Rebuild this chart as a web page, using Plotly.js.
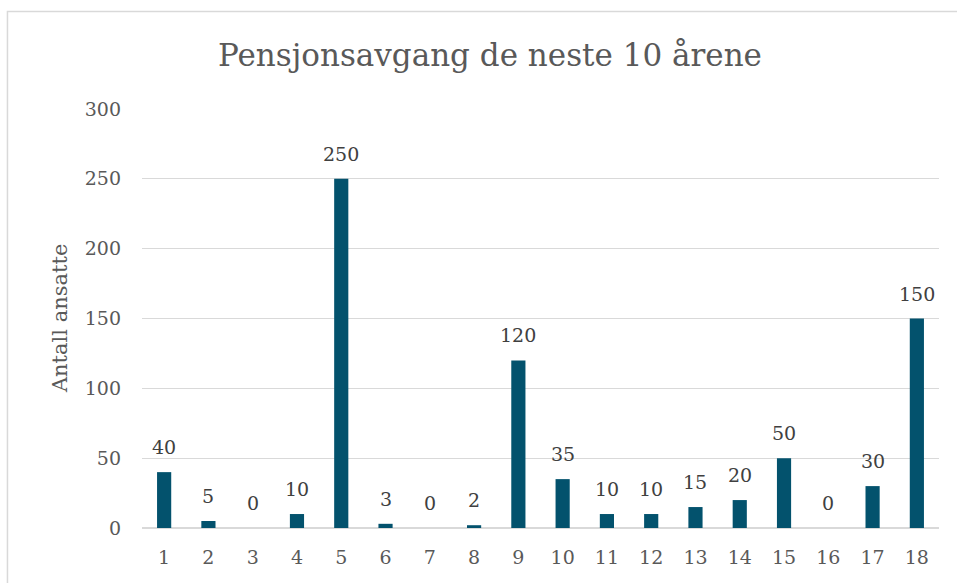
<!DOCTYPE html>
<html>
<head>
<meta charset="utf-8">
<script src="https://cdn.plot.ly/plotly-3.0.1.min.js"></script>
<style>
html,body{margin:0;padding:0;background:#fff;}
#chart{width:957px;height:583px;}
</style>
</head>
<body>
<div id="chart"></div>
<script>
const categories = ["1","2","3","4","5","6","7","8","9","10","11","12","13","14","15","16","17","18"];
const values = [40,5,0,10,250,3,0,2,120,35,10,10,15,20,50,0,30,150];
const yTicks = [0,50,100,150,200,250,300];
const titleText = "Pensjonsavgang de neste 10 årene";
const yTitle = "Antall ansatte";

const FONT = "DejaVu Serif, Liberation Serif, serif";

const labelAnnotations = categories.map((c, i) => ({
  x: i, y: values[i], xref: 'x', yref: 'y',
  text: String(values[i]), showarrow: false,
  yanchor: 'bottom', yshift: 12,
  font: {family: FONT, size: 19, color: '#404040'}
}));

const trace = {
  type: 'bar',
  x: categories,
  y: values,
  width: 0.32,
  marker: {color: '#03526d'},
  hoverinfo: 'x+y'
};

const layout = {
  width: 957, height: 583,
  margin: {l: 142, r: 18, t: 109, b: 55},
  paper_bgcolor: '#ffffff',
  plot_bgcolor: '#ffffff',
  showlegend: false,
  title: {
    text: titleText,
    font: {family: FONT, size: 31, color: '#595959'},
    x: 0.512, xref: 'container', xanchor: 'center',
    y: 0.906, yref: 'container', yanchor: 'middle'
  },
  xaxis: {
    type: 'category',
    range: [-0.5, 17.5],
    tickfont: {family: FONT, size: 19, color: '#595959'},
    showgrid: false, zeroline: false,
    showline: false, ticks: '',
    ticklabelstandoff: 16,
    fixedrange: true
  },
  yaxis: {
    range: [0, 300],
    tickvals: yTicks,
    ticktext: yTicks.map(String),
    tickfont: {family: FONT, size: 19, color: '#595959'},
    showgrid: true, gridcolor: '#d9d9d9', gridwidth: 1.3,
    zeroline: true, zerolinecolor: '#d9d9d9', zerolinewidth: 1.3,
    showline: false, ticks: '',
    ticklabelstandoff: 20,
    fixedrange: true
  },
  annotations: labelAnnotations.concat([{
    text: yTitle, showarrow: false,
    xref: 'paper', yref: 'paper',
    x: -0.1029, y: 0.501, xanchor: 'center', yanchor: 'middle',
    textangle: -90,
    font: {family: FONT, size: 21, color: '#595959'}
  }]),
  shapes: [{
    type: 'rect', xref: 'paper', yref: 'paper',
    x0: -0.1688, x1: 1.05, y0: -0.2, y1: 1.2327,
    line: {color: '#d9d9d9', width: 1.5},
    fillcolor: 'rgba(0,0,0,0)', layer: 'below'
  }]
};

Plotly.newPlot('chart', [trace], layout, {displayModeBar: false, staticPlot: true});
</script>
</body>
</html>
